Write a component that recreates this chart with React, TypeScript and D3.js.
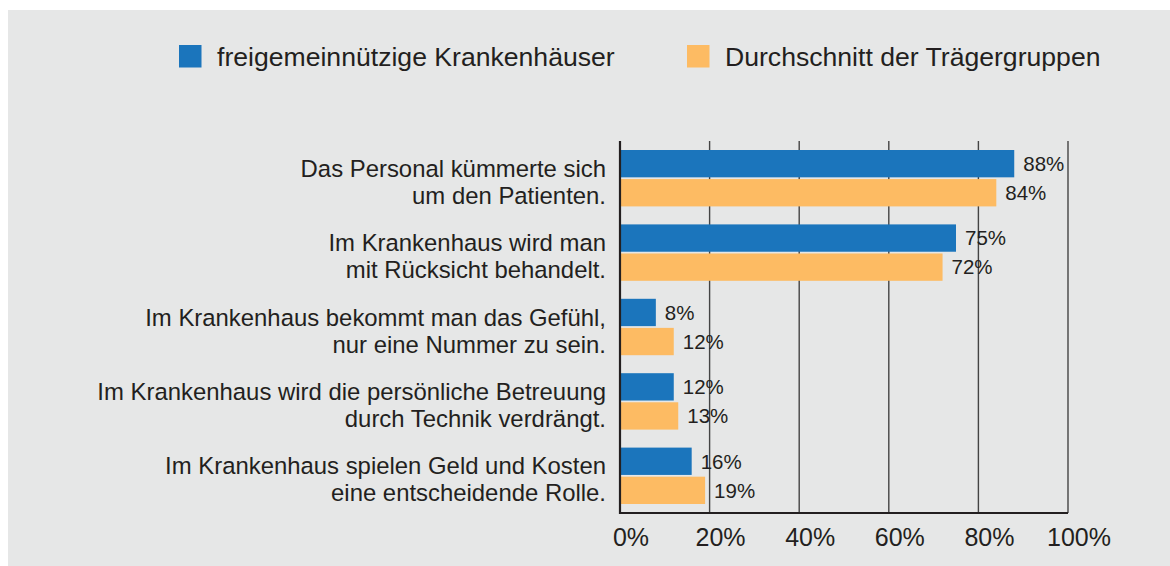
import React, { useEffect, useRef } from "react";
import * as d3 from "d3";

const categories: string[][] = [
  ["Das Personal kümmerte sich", "um den Patienten."],
  ["Im Krankenhaus wird man", "mit Rücksicht behandelt."],
  ["Im Krankenhaus bekommt man das Gefühl,", "nur eine Nummer zu sein."],
  ["Im Krankenhaus wird die persönliche Betreuung", "durch Technik verdrängt."],
  ["Im Krankenhaus spielen Geld und Kosten", "eine entscheidende Rolle."],
];
const seriesNames = ["freigemeinnützige Krankenhäuser", "Durchschnitt der Trägergruppen"];
const freigemeinnuetzig = [88, 75, 8, 12, 16];
const durchschnitt = [84, 72, 12, 13, 19];
const ticks = [0, 20, 40, 60, 80, 100];

const COLORS = ["#1b75bc", "#fdbb63"];
const TEXT = "#231f20";
const FONT = "'Liberation Sans', Arial, Helvetica, sans-serif";

export default function App() {
  const ref = useRef<SVGSVGElement | null>(null);

  useEffect(() => {
    const svg = d3.select(ref.current);
    svg.selectAll("*").remove();
    const W = 1170, H = 566;

    svg.append("rect").attr("x", 0).attr("y", 0).attr("width", W).attr("height", H).attr("fill", "#ffffff");
    svg.append("rect").attr("x", 8).attr("y", 10).attr("width", W - 8).attr("height", H - 10).attr("fill", "#e6e7e7");

    const x = d3.scaleLinear().domain([0, 100]).range([620, 1068]);
    const y = d3.scaleBand<number>().domain(d3.range(categories.length)).range([141, 513]).paddingInner(0).paddingOuter(0);
    const inner = d3.scaleBand<number>().domain([0, 1]).range([9, y.bandwidth() - 9]).paddingInner(0.06);

    // legend
    const legendX = [179, 687];
    seriesNames.forEach((name, i) => {
      svg.append("rect").attr("x", legendX[i]).attr("y", 45).attr("width", 22.5).attr("height", 22.5).attr("fill", COLORS[i]);
      svg.append("text").attr("x", legendX[i] + 38).attr("y", 66).attr("font-family", FONT).attr("font-size", 26.6).attr("fill", TEXT).text(name);
    });

    // gridlines
    const g = svg.append("g");
    ticks.slice(1).forEach((t) => {
      g.append("line").attr("x1", x(t)).attr("x2", x(t)).attr("y1", 141).attr("y2", 513).attr("stroke", "#444").attr("stroke-width", 1.4);
    });

    // bars
    const series = [freigemeinnuetzig, durchschnitt];
    series.forEach((vals, s) => {
      vals.forEach((v, i) => {
        const by = (y(i) as number) + (inner(s) as number);
        g.append("rect").attr("x", x(0)).attr("y", by).attr("width", x(v) - x(0)).attr("height", inner.bandwidth()).attr("fill", COLORS[s]);
        g.append("text").attr("x", x(v) + 9).attr("y", by + inner.bandwidth() / 2 + 7.3)
          .attr("font-family", FONT).attr("font-size", 20.5).attr("fill", TEXT).text(`${v}%`);
      });
    });

    // axes lines
    g.append("line").attr("x1", x(0)).attr("x2", x(0)).attr("y1", 141).attr("y2", 514).attr("stroke", "#231f20").attr("stroke-width", 2.2);
    g.append("line").attr("x1", x(0) - 1).attr("x2", x(100)).attr("y1", 513).attr("y2", 513).attr("stroke", "#231f20").attr("stroke-width", 2);

    // tick labels
    ticks.forEach((t) => {
      g.append("text").attr("x", x(t) + 11).attr("y", 546).attr("text-anchor", "middle")
        .attr("font-family", FONT).attr("font-size", 25).attr("fill", TEXT).text(`${t}%`);
    });

    // category labels
    categories.forEach((lines, i) => {
      const c = (y(i) as number) + y.bandwidth() / 2;
      lines.forEach((ln, j) => {
        g.append("text").attr("x", 606).attr("y", c - 1.5 + j * 27).attr("text-anchor", "end")
          .attr("font-family", FONT).attr("font-size", 23.9).attr("fill", TEXT).text(ln);
      });
    });
  }, []);

  return (
    <svg ref={ref} width={1170} height={566} style={{ position: "absolute", left: 0, top: 0, display: "block" }} />
  );
}
